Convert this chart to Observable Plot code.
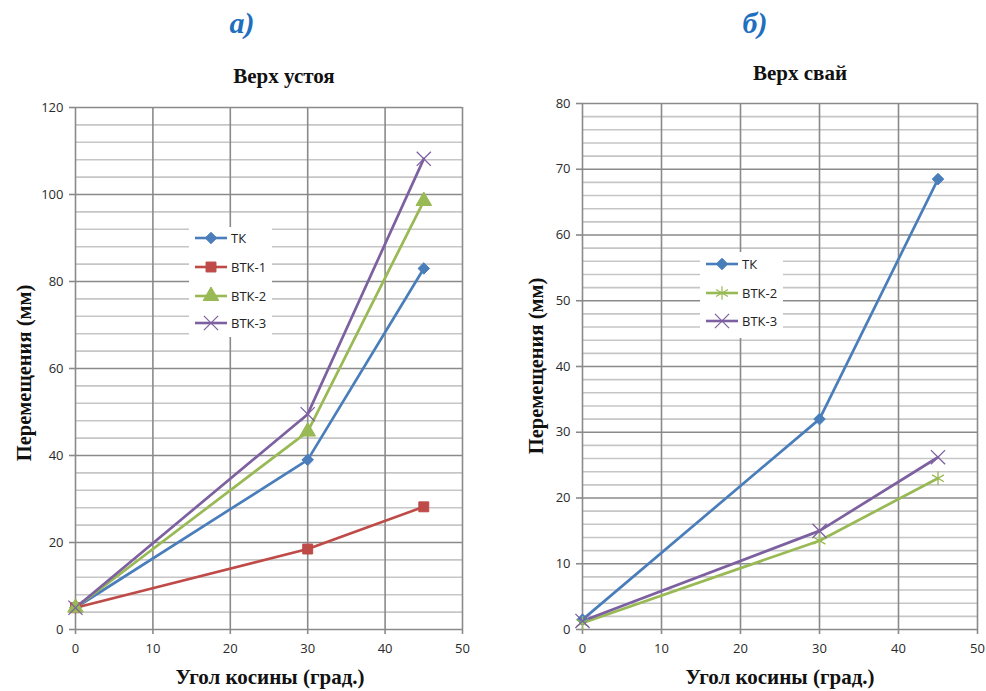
<!DOCTYPE html>
<html>
<head>
<meta charset="utf-8">
<script src="https://cdn.jsdelivr.net/npm/d3@7"></script>
<script src="https://cdn.jsdelivr.net/npm/@observablehq/plot@0.6"></script>
<style>
  html, body { margin: 0; padding: 0; background: #fff; }
  #root { position: relative; width: 986px; height: 691px; overflow: hidden; }
  .panel { position: absolute; top: 0; }
  .overlay { position: absolute; left: 0; top: 0; pointer-events: none; }
  .legend { position: absolute; background: #fff; font-family: "Open Sans", sans-serif; font-size: 13px; color: #222; }
  .legend .item { position: absolute; left: 0; height: 20px; display: flex; align-items: center; white-space: nowrap; }
  .legend .item span { margin-left: 4px; }
</style>
</head>
<body>
<div id="root"></div>
<script>
// ---------- data ----------
const angles = [0, 30, 45];
const xTicks = [0, 10, 20, 30, 40, 50];

// (а) Верх устоя
const aSeries = ["ТК", "ВТК-1", "ВТК-2", "ВТК-3"];
const aTK   = [5, 39, 83];
const aBTK1 = [5, 18.5, 28.2];
const aBTK2 = [5, 45.5, 98.5];
const aBTK3 = [5, 49.5, 108.2];
const aYTicks = [0, 20, 40, 60, 80, 100, 120];

// (б) Верх свай
const bSeries = ["ТК", "ВТК-2", "ВТК-3"];
const bTK   = [1.5, 32, 68.5];
const bBTK2 = [1, 13.5, 23];
const bBTK3 = [1.3, 15, 26.2];
const bYTicks = [0, 10, 20, 30, 40, 50, 60, 70, 80];

// text
const panelLabels = ["а)", "б)"];
const titles = ["Верх устоя", "Верх свай"];
const xLabel = "Угол косины (град.)";
const yLabel = "Перемещения (мм)";

// ---------- styles ----------
const colors  = {"ТК": "#4a7ebb", "ВТК-1": "#be4b48", "ВТК-2": "#98b954", "ВТК-3": "#7d60a0"};
const symbols = {"ТК": "diamond2", "ВТК-1": "square", "ВТК-3": "times"};
const symbolsA = {...symbols, "ВТК-2": "triangle"};
const symbolsB = {...symbols, "ВТК-2": "asterisk"};
const filled = new Set(["diamond2", "square", "triangle"]);
const sizes = {diamond2: 5.2, square: 5.6, triangle: 5.8, times: 6.5, asterisk: 6.5};

function rows(names, arrays) {
  const out = [];
  names.forEach((n, i) => arrays[i].forEach((v, j) => out.push({series: n, x: angles[j], y: v})));
  return out;
}
const aData = rows(aSeries, [aTK, aBTK1, aBTK2, aBTK3]);
const bData = rows(bSeries, [bTK, bBTK2, bBTK3]);

function range(a, b, s) { const r = []; for (let v = a; v <= b + 1e-9; v += s) r.push(+v.toFixed(6)); return r; }

function chart({data, names, syms, yMax, yTicks, minorStep, width, mLeft, mRight, mTop}) {
  const minor = range(0, yMax, minorStep).filter(v => !yTicks.includes(v));
  const dotMarks = names.map(n => {
    const s = syms[n], isFill = filled.has(s);
    return Plot.dot(data.filter(d => d.series === n), {
      x: "x", y: "y", symbol: () => s, r: sizes[s],
      fill: isFill ? colors[n] : "none", stroke: colors[n], strokeWidth: isFill ? 1 : 1.3
    });
  });
  return Plot.plot({
    width, height: 691,
    marginLeft: mLeft, marginRight: mRight, marginTop: mTop, marginBottom: 62,
    style: {fontFamily: "Open Sans, sans-serif", fontSize: "13px", color: "#2a2a2a", background: "transparent", overflow: "visible"},
    x: {domain: [0, 50], label: null},
    y: {domain: [0, yMax], label: null},
    color: {domain: names, range: names.map(n => colors[n])},
    symbol: {type: "identity"},
    marks: [
      Plot.ruleY(minor, {stroke: "#c6c6c6", strokeWidth: 1.6}),
      Plot.ruleY(yTicks, {stroke: "#8a8a8a", strokeWidth: 1.6}),
      Plot.ruleX(xTicks, {stroke: "#8a8a8a", strokeWidth: 1.6}),
      Plot.axisX({ticks: xTicks, tickSize: 5, tickPadding: 9, stroke: "#8a8a8a", strokeWidth: 1.6, strokeOpacity: 1, fill: "#2a2a2a"}),
      Plot.axisY({ticks: yTicks, tickSize: 6, tickPadding: 6, stroke: "#8a8a8a", strokeWidth: 1.6, strokeOpacity: 1, fill: "#2a2a2a"}),
      Plot.line(data, {x: "x", y: "y", z: "series", stroke: "series", strokeWidth: 2.7}),
      ...dotMarks
    ]
  });
}

const root = document.getElementById("root");
function addPanel(svg, left) {
  const d = document.createElement("div");
  d.className = "panel";
  d.style.left = left + "px";
  d.appendChild(svg);
  root.appendChild(d);
}

addPanel(chart({data: aData, names: aSeries, syms: symbolsA, yMax: 120, yTicks: aYTicks, minorStep: 4,
  width: 490, mLeft: 75, mRight: 28, mTop: 107}), 0);
addPanel(chart({data: bData, names: bSeries, syms: symbolsB, yMax: 80, yTicks: bYTicks, minorStep: 2,
  width: 496, mLeft: 92, mRight: 9, mTop: 103}), 490);

// ---------- legends ----------
function symbolSvg(name, syms) {
  const c = colors[name], s = syms[name];
  const sym = {diamond2: d3.symbolDiamond2, square: d3.symbolSquare, triangle: d3.symbolTriangle, times: d3.symbolTimes, asterisk: d3.symbolAsterisk}[s];
  const path = d3.symbol(sym, Math.PI * sizes[s] * sizes[s])();
  const isFill = filled.has(s);
  return `<svg width="32" height="20"><line x1="0" x2="32" y1="10" y2="10" stroke="${c}" stroke-width="2.6"/>` +
    `<path transform="translate(16,10)" d="${path}" fill="${isFill ? c : "none"}" stroke="${c}" stroke-width="${isFill ? 1 : 1.2}"/></svg>`;
}
function addLegend(names, syms, left, top, w, h, ys) {
  const L = document.createElement("div");
  L.className = "legend";
  Object.assign(L.style, {left: left + "px", top: top + "px", width: w + "px", height: h + "px"});
  names.forEach((n, i) => {
    const it = document.createElement("div");
    it.className = "item";
    it.style.top = (ys[i] - top - 10) + "px";
    it.style.left = "6px";
    it.innerHTML = symbolSvg(n, syms) + `<span>${n}</span>`;
    L.appendChild(it);
  });
  root.appendChild(L);
}
addLegend(aSeries, symbolsA, 189, 227, 83, 110, [238, 267, 296, 323]);
addLegend(bSeries, symbolsB, 700, 252, 83, 86, [264, 293, 321]);

// ---------- texts ----------
const ns = "http://www.w3.org/2000/svg";
const ov = document.createElementNS(ns, "svg");
ov.setAttribute("class", "overlay");
ov.setAttribute("width", 986); ov.setAttribute("height", 691);
function txt(s, x, y, attrs) {
  const t = document.createElementNS(ns, "text");
  t.textContent = s;
  t.setAttribute("x", x); t.setAttribute("y", y);
  t.setAttribute("text-anchor", "middle");
  for (const k in attrs) t.setAttribute(k, attrs[k]);
  ov.appendChild(t);
}
const serif = {"font-family": "Liberation Serif, serif", "font-weight": "bold", fill: "#111"};
const pl = {"font-family": "Liberation Serif, serif", "font-weight": "bold", "font-style": "italic", "font-size": 30, fill: "#1f6fbf"};
txt(panelLabels[0], 242, 33, pl);
txt(panelLabels[1], 755, 33, pl);
txt(titles[0], 284, 83, {...serif, "font-size": 21});
txt(titles[1], 800, 80, {...serif, "font-size": 21});
txt(xLabel, 270, 684, {...serif, "font-size": 21});
txt(xLabel, 780, 684, {...serif, "font-size": 21});
txt(yLabel, 0, 0, {...serif, "font-size": 20.5, transform: "translate(31,373) rotate(-90)"});
txt(yLabel, 0, 0, {...serif, "font-size": 20.5, transform: "translate(543,366) rotate(-90)"});
root.appendChild(ov);
</script>
</body>
</html>
